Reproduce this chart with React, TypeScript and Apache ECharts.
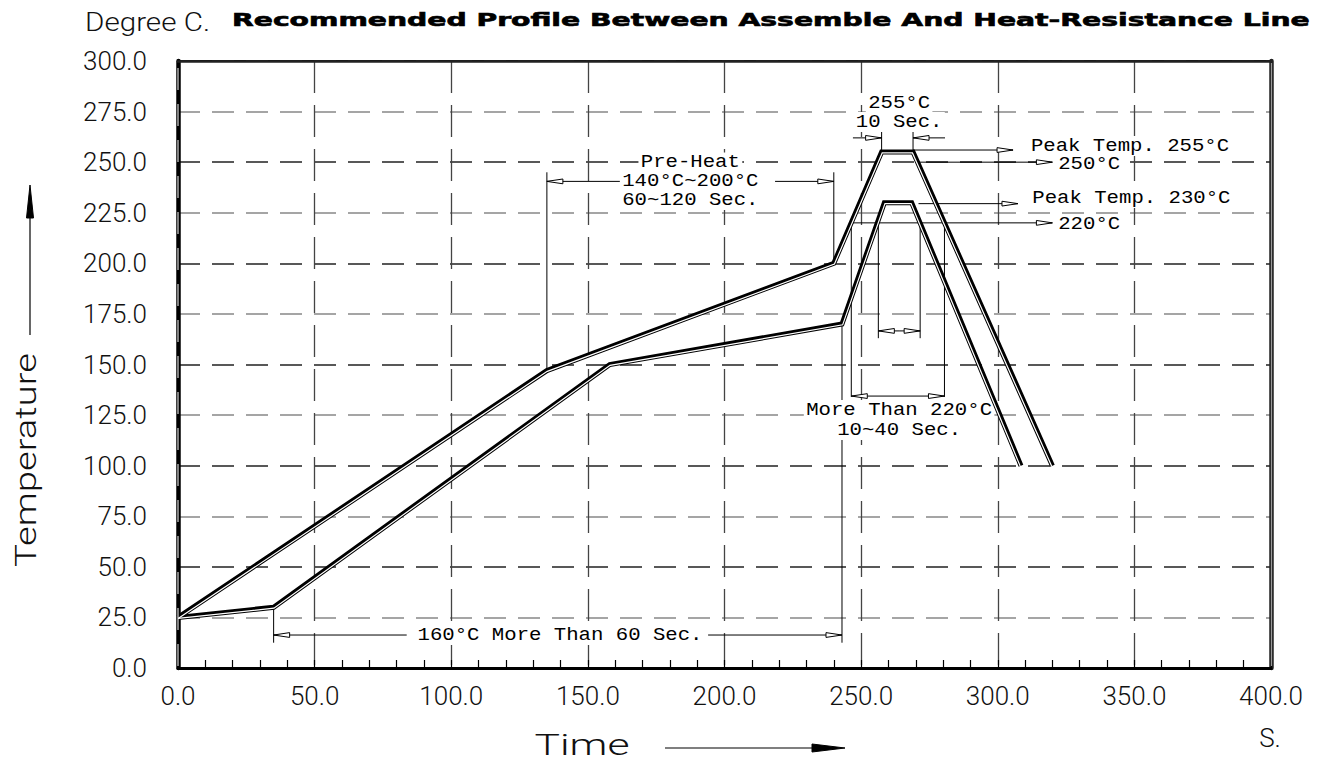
import React, { useEffect, useRef } from "react";
import * as echarts from "echarts";

// ---- data (seconds, degree C) ----
const xTickValues = [0, 50, 100, 150, 200, 250, 300, 350, 400];
const yTickValues = [0, 25, 50, 75, 100, 125, 150, 175, 200, 225, 250, 275, 300];

// Recommended profile - assemble line (lower curve)
const assembleTime = [0, 35, 158, 243, 258.5, 268.5, 308.5];
const assembleTemp = [25, 30, 150, 170, 230, 230, 100];

// Heat-resistance line (upper curve)
const resistTime = [0, 135, 240, 257.5, 269, 320];
const resistTemp = [25, 147, 200, 255, 255, 100];

// leader (extension) lines: [t1, T1, t2, T2]
const leaderLines: number[][] = [
  [135, 147, 135, 245],
  [240, 200, 240, 245],
  [35, 30, 35, 12.5],
  [243, 170, 243, 12.5],
  [257.5, 255, 257.5, 265.5],
  [269, 255, 269, 265.5],
  [246.4, 220, 246.4, 134],
  [280.5, 220, 280.5, 134],
  [256.3, 220, 256.3, 163],
  [271.6, 220, 271.6, 163],
];

// arrow lines: [from t, from T, tip t, tip T]
const arrowLines: number[][] = [
  [170.5, 240.5, 135, 240.5],
  [218.5, 240.5, 240, 240.5],
  [83.7, 16.3, 35, 16.3],
  [194, 16.3, 243, 16.3],
  [247, 262, 257.5, 262],
  [280.7, 262, 269, 262],
  [269, 256, 305.6, 256],
  [270.6, 250, 320, 250],
  [271, 229.5, 307.4, 229.5],
  [246.4, 220, 320, 220],
  [263.5, 134.4, 246.4, 134.4],
  [263.5, 134.4, 280.5, 134.4],
  [263.9, 166.6, 256.3, 166.6],
  [263.9, 166.6, 271.6, 166.6],
];

// annotation labels: [text, t, T, align]
const noteLabels: [string, number, number, string][] = [
  ["Pre-Heat", 187.5, 249.8, "center"],
  ["140°C~200°C", 187.5, 240.5, "center"],
  ["60~120 Sec.", 187.5, 231.3, "center"],
  ["160°C More Than 60 Sec.", 139.8, 16.3, "center"],
  ["255°C", 263.9, 279.2, "center"],
  ["10 Sec.", 263.9, 269.9, "center"],
  ["Peak Temp. 255°C", 311.3, 258, "left"],
  ["250°C", 321.3, 248.8, "left"],
  ["Peak Temp. 230°C", 311.8, 232.3, "left"],
  ["220°C", 321.3, 219.4, "left"],
  ["More Than 220°C", 263.9, 127.5, "center"],
  ["10~40 Sec.", 263.9, 117.6, "center"],
];

const titleText = "Recommended Profile Between Assemble And Heat-Resistance Line";
const unitText = "Degree C.";
const xName = "Time";
const yName = "Temperature";
const xUnit = "S.";

function measure(text: string, font: string): number {
  const c = document.createElement("canvas").getContext("2d");
  if (!c) return text.length * 10;
  c.font = font;
  return c.measureText(text).width;
}

// offset a screen-space polyline along its right-hand normal (miter joins)
function offsetPolyline(pts: number[][], off: number): number[][] {
  const n = pts.length;
  const normals: number[][] = [];
  for (let i = 0; i < n - 1; i++) {
    const dx = pts[i + 1][0] - pts[i][0];
    const dy = pts[i + 1][1] - pts[i][1];
    const l = Math.hypot(dx, dy) || 1;
    normals.push([-dy / l, dx / l]);
  }
  const out: number[][] = [];
  for (let i = 0; i < n; i++) {
    let nx: number, ny: number, k = 1;
    if (i === 0) {
      [nx, ny] = normals[0];
    } else if (i === n - 1) {
      [nx, ny] = normals[n - 2];
    } else {
      const a = normals[i - 1];
      const b = normals[i];
      nx = a[0] + b[0];
      ny = a[1] + b[1];
      const l = Math.hypot(nx, ny) || 1;
      nx /= l;
      ny /= l;
      const d = nx * a[0] + ny * a[1];
      k = d > 0.2 ? 1 / d : 5;
    }
    out.push([pts[i][0] + nx * off * k, pts[i][1] + ny * off * k]);
  }
  return out;
}

const NOTE_FONT = "Liberation Mono";
const NOTE_SIZE = 18;
const AXIS_FONT = "Roboto";

export default function App() {
  const ref = useRef<HTMLDivElement>(null);

  useEffect(() => {
    const el = ref.current;
    if (!el) return;
    const chart = echarts.init(el, null, { renderer: "svg" });

    const noteScale = (t: string) =>
      (12.4 * t.length) / measure(t, `${NOTE_SIZE}px "${NOTE_FONT}"`);

    const titleFont = 'bold 17px "DejaVu Sans"';
    const titleScale = 1078 / measure(titleText, titleFont);
    const unitScale = 125 / measure(unitText, `300 26px ${AXIS_FONT}`);
    const timeScale = 95 / measure(xName, `300 30px ${AXIS_FONT}`);
    const tempScale = 214 / measure(yName, `300 30px ${AXIS_FONT}`);

    const renderNotes = (_params: any, api: any) => {
      const children: any[] = [];
      for (const [a, b, c, d] of leaderLines) {
        const p1 = api.coord([a, b]);
        const p2 = api.coord([c, d]);
        children.push({
          type: "line",
          shape: { x1: p1[0], y1: p1[1], x2: p2[0], y2: p2[1] },
          style: { stroke: "#000", lineWidth: 1 },
        });
      }
      for (const [a, b, c, d] of arrowLines) {
        const p1 = api.coord([a, b]);
        const p2 = api.coord([c, d]);
        children.push({
          type: "line",
          shape: { x1: p1[0], y1: p1[1], x2: p2[0], y2: p2[1] },
          style: { stroke: "#000", lineWidth: 1 },
        });
        const dx = p2[0] - p1[0];
        const dy = p2[1] - p1[1];
        const len = Math.hypot(dx, dy) || 1;
        const ux = dx / len;
        const uy = dy / len;
        const L = 16;
        const W = 2.4;
        const bx = p2[0] - ux * L;
        const by = p2[1] - uy * L;
        children.push({
          type: "polygon",
          shape: {
            points: [
              [p2[0], p2[1]],
              [bx - uy * W, by + ux * W],
              [bx + uy * W, by - ux * W],
            ],
          },
          style: { fill: "#fff", stroke: "#000", lineWidth: 1 },
        });
      }
      for (const [text, t, T, align] of noteLabels) {
        const p = api.coord([t, T]);
        children.push({
          type: "text",
          x: p[0],
          y: p[1],
          scaleX: noteScale(text),
          style: {
            text,
            fill: "#000",
            fontSize: NOTE_SIZE,
            fontFamily: NOTE_FONT,
            backgroundColor: "#fff",
            padding: [1, 2],
            align,
            textAlign: align,
            verticalAlign: "middle",
            textVerticalAlign: "middle",
          },
        });
      }
      return { type: "group", children };
    };

    // white inner stripe of the double-drawn profile lines and frame
    const renderStripes = (_params: any, api: any) => {
      const children: any[] = [];
      const curves = [
        resistTime.map((t, i) => api.coord([t, resistTemp[i]])),
        assembleTime.map((t, i) => api.coord([t, assembleTemp[i]])),
      ];
      for (const pts of curves) {
        children.push({
          type: "polyline",
          shape: { points: offsetPolyline(pts, 0.9) },
          style: { stroke: "#fff", lineWidth: 1.2, fill: null, lineJoin: "miter" },
        });
      }
      const y0 = yTickValues[0];
      const y1 = yTickValues[yTickValues.length - 1];
      const l0 = api.coord([xTickValues[0], y0]);
      const l1 = api.coord([xTickValues[0], y1]);
      children.push({
        type: "line",
        shape: { x1: l0[0], y1: l0[1] - 2, x2: l1[0], y2: l1[1] + 2 },
        style: { stroke: "#fff", lineWidth: 1, lineDash: [22, 14] },
      });
      const r0 = api.coord([xTickValues[xTickValues.length - 1], y0]);
      const r1 = api.coord([xTickValues[xTickValues.length - 1], y1]);
      children.push({
        type: "line",
        shape: { x1: r0[0] + 0.5, y1: r0[1] - 2, x2: r1[0] + 0.5, y2: r1[1] + 2 },
        style: { stroke: "#999", lineWidth: 1.2 },
      });
      return { type: "group", children };
    };

    const fmt = (v: number) => v.toFixed(1);

    const option: any = {
      animation: false,
      backgroundColor: "#fff",
      grid: {
        left: 178,
        right: 56,
        top: 61,
        bottom: 94,
        show: true,
        borderColor: "#000",
        borderWidth: 2,
      },
      xAxis: [
        {
          type: "value",
          min: xTickValues[0],
          max: xTickValues[xTickValues.length - 1],
          interval: 50,
          axisLine: { show: true, onZero: false, lineStyle: { color: "#000", width: 3 } },
          axisTick: { show: true, inside: true, length: 8, lineStyle: { color: "#000", width: 1.2 } },
          minorTick: { show: true, splitNumber: 5, length: 8, lineStyle: { color: "#000", width: 1.2 } },
          axisLabel: {
            formatter: fmt,
            fontSize: 26,
            fontFamily: AXIS_FONT,
            fontWeight: 300,
            color: "#111",
            margin: 15,
            showMinLabel: true,
            showMaxLabel: true,
          },
          splitLine: { show: true, lineStyle: { color: "#444", type: [32, 12], width: 1.3 } },
        },
        {
          type: "value",
          position: "top",
          min: 0,
          max: 400,
          axisLine: { show: true, onZero: false, lineStyle: { color: "#222", width: 2.5 } },
          axisTick: { show: false },
          axisLabel: { show: false },
          splitLine: { show: false },
        },
      ],
      yAxis: [
        {
          type: "value",
          min: yTickValues[0],
          max: yTickValues[yTickValues.length - 1],
          interval: 25,
          axisLine: { show: true, onZero: false, lineStyle: { color: "#000", width: 4.5 } },
          axisTick: { show: false },
          axisLabel: {
            formatter: fmt,
            fontSize: 26,
            fontFamily: AXIS_FONT,
            fontWeight: 300,
            color: "#111",
            margin: 31,
            showMinLabel: true,
            showMaxLabel: true,
          },
          splitLine: {
            show: true,
            lineStyle: { color: ["#222", "#888"], type: [22, 12], width: 1.5 },
          },
        },
        {
          type: "value",
          position: "right",
          min: 0,
          max: 300,
          axisLine: { show: true, onZero: false, lineStyle: { color: "#222", width: 4.5 } },
          axisTick: { show: false },
          axisLabel: { show: false },
          splitLine: { show: false },
        },
      ],
      series: [
        {
          type: "custom",
          name: "notes",
          coordinateSystem: "cartesian2d",
          xAxisIndex: 0,
          yAxisIndex: 0,
          data: [[0, 0]],
          clip: false,
          silent: true,
          z: 2,
          renderItem: renderNotes,
        },
        {
          type: "line",
          name: "Heat-Resistance Line",
          data: resistTime.map((t, i) => [t, resistTemp[i]]),
          symbol: "none",
          z: 3,
          lineStyle: { color: "#000", width: 5, join: "miter" },
        },
        {
          type: "line",
          name: "Assemble Line",
          data: assembleTime.map((t, i) => [t, assembleTemp[i]]),
          symbol: "none",
          z: 3,
          lineStyle: { color: "#000", width: 5, join: "miter" },
        },
        {
          type: "custom",
          name: "stripes",
          coordinateSystem: "cartesian2d",
          xAxisIndex: 0,
          yAxisIndex: 0,
          data: [[0, 0]],
          clip: false,
          silent: true,
          z: 5,
          renderItem: renderStripes,
        },
      ],
      graphic: [
        {
          type: "text",
          x: 85,
          y: 22,
          scaleX: unitScale,
          style: {
            text: unitText,
            fill: "#111",
            fontSize: 26,
            fontFamily: AXIS_FONT,
            fontWeight: 300,
            align: "left",
            textAlign: "left",
            verticalAlign: "middle",
            textVerticalAlign: "middle",
          },
        },
        {
          type: "text",
          x: 232,
          y: 20,
          scaleX: titleScale,
          style: {
            text: titleText,
            fill: "#000",
            stroke: "#000",
            lineWidth: 0.6,
            fontSize: 17,
            fontFamily: "DejaVu Sans",
            fontWeight: "bold",
            align: "left",
            textAlign: "left",
            verticalAlign: "middle",
            textVerticalAlign: "middle",
          },
        },
        {
          type: "text",
          x: 582,
          y: 745,
          scaleX: timeScale,
          style: {
            text: xName,
            fill: "#111",
            fontSize: 30,
            lineHeight: 28,
            fontFamily: AXIS_FONT,
            fontWeight: 300,
            align: "center",
            textAlign: "center",
            verticalAlign: "middle",
            textVerticalAlign: "middle",
          },
        },
        {
          type: "line",
          shape: { x1: 665, y1: 748, x2: 815, y2: 748 },
          style: { stroke: "#000", lineWidth: 1.2 },
        },
        {
          type: "polygon",
          shape: { points: [[845, 748], [812, 744], [812, 752]] },
          style: { fill: "#000", stroke: "#000", lineWidth: 1 },
        },
        {
          type: "text",
          x: 1270,
          y: 738,
          style: {
            text: xUnit,
            fill: "#111",
            fontSize: 26,
            fontFamily: AXIS_FONT,
            fontWeight: 300,
            align: "center",
            textAlign: "center",
            verticalAlign: "middle",
            textVerticalAlign: "middle",
          },
        },
        {
          type: "text",
          x: 26,
          y: 460,
          rotation: Math.PI / 2,
          scaleX: tempScale,
          style: {
            text: yName,
            fill: "#111",
            fontSize: 30,
            fontFamily: AXIS_FONT,
            fontWeight: 300,
            align: "center",
            textAlign: "center",
            verticalAlign: "middle",
            textVerticalAlign: "middle",
          },
        },
        {
          type: "line",
          shape: { x1: 30, y1: 335, x2: 30, y2: 214 },
          style: { stroke: "#000", lineWidth: 1.2 },
        },
        {
          type: "polygon",
          shape: { points: [[30, 185], [26.5, 218], [33.5, 218]] },
          style: { fill: "#000", stroke: "#000", lineWidth: 1 },
        },
      ],
    };

    chart.setOption(option);
    return () => {
      chart.dispose();
    };
  }, []);

  return (
    <div
      ref={ref}
      style={{ position: "fixed", left: 0, top: 0, width: 1327, height: 762, background: "#fff" }}
    />
  );
}
